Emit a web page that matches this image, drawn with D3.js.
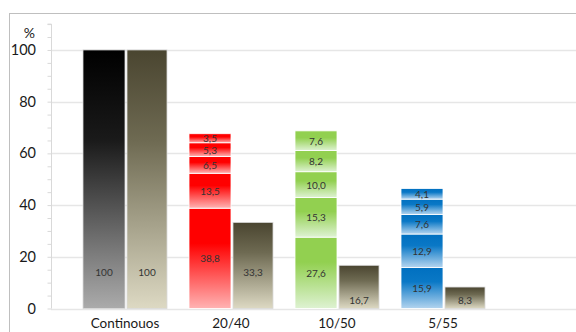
<!DOCTYPE html>
<html>
<head>
<meta charset="utf-8">
<script src="https://cdn.jsdelivr.net/npm/d3@7"></script>
<style>
  html, body { margin: 0; padding: 0; background: #fff; }
  svg { display: block; font-family: Lato, "Open Sans", sans-serif; }
</style>
</head>
<body>
<svg id="chart" width="576" height="332"></svg>
<script>
// Schedules compared against the continuous baseline
const categories = ["Continouos", "20/40", "10/50", "5/55"];
// Stacked components of the left bar (bottom to top); empty for the plain baseline bar
const stackParts = [
  [],
  [38.8, 13.5, 6.5, 5.3, 3.5],
  [27.6, 15.3, 10.0, 8.2, 7.6],
  [15.9, 12.9, 7.6, 5.9, 4.1]
];
// Plain left-bar value for the baseline category
const baseLeft = [100, null, null, null];
// Right-hand comparison bar
const rightValues = [100, 33.3, 16.7, 8.3];
const yTicks = [0, 20, 40, 60, 80, 100];

const palettes = [
  { top: "#000000", mid: "#1a1a1a", bottom: "#ababab" },
  { top: "#ff0000", mid: "#ff0000", bottom: "#ffb3b3" },
  { top: "#92d050", mid: "#92d050", bottom: "#def2d2" },
  { top: "#0070c0", mid: "#0a78c6", bottom: "#b3d4ef" }
];
const tan = { top: "#4a4530", mid: "#6e6a52", bottom: "#ddd9c3" };

const svg = d3.select("#chart");
const y = d3.scaleLinear().domain([0, 110]).range([308.5, 24.1]);
const x = d3.scaleBand().domain(categories).range([72, 496]).padding(0);

// Outer frame
svg.append("line").attr("x1", 9.5).attr("x2", 9.5).attr("y1", 13).attr("y2", 332)
  .attr("stroke", "#bfbfbf").attr("stroke-width", 1);
svg.append("line").attr("x1", 9).attr("x2", 576).attr("y1", 13.5).attr("y2", 13.5)
  .attr("stroke", "#bfbfbf").attr("stroke-width", 1);

// Horizontal gridlines
svg.append("g").selectAll("line").data(yTicks).join("line")
  .attr("x1", 51).attr("x2", 576)
  .attr("y1", d => Math.round(y(d)) + 0.5).attr("y2", d => Math.round(y(d)) + 0.5)
  .attr("stroke", "#e6e6e6").attr("stroke-width", 1.5);

// Y axis with minor ticks every 5
const yAxis = d3.axisLeft(y).tickValues(d3.range(0, 111, 5)).tickSize(4).tickFormat("");
const gy = svg.append("g").attr("transform", "translate(51.5,0)").call(yAxis);
gy.select(".domain").attr("stroke", "#d9d9d9").attr("d", `M-4,${y(110)}H0V${y(0)}`);
gy.selectAll(".tick line").attr("stroke", "#d9d9d9");
svg.append("g").selectAll("text").data(yTicks).join("text")
  .attr("x", 36).attr("y", d => y(d) + 5)
  .attr("text-anchor", "end").attr("font-size", 14.5).attr("fill", "#1a1a1a")
  .text(d => d);
svg.append("text").attr("x", 35).attr("y", 38).attr("text-anchor", "end")
  .attr("font-size", 14).attr("fill", "#1a1a1a").text("%");

// Gradient definitions
const defs = svg.append("defs");
function gradient(id, p) {
  const g = defs.append("linearGradient").attr("id", id)
    .attr("x1", 0).attr("y1", 0).attr("x2", 0).attr("y2", 1);
  g.append("stop").attr("offset", "0%").attr("stop-color", p.top);
  g.append("stop").attr("offset", "35%").attr("stop-color", p.mid);
  g.append("stop").attr("offset", "100%").attr("stop-color", p.bottom);
}
palettes.forEach((p, i) => gradient("g" + i, p));
gradient("tan", tan);

const leftW = 42, rightW = 40, gap = 2;
const bars = svg.append("g");
const labels = svg.append("g").attr("font-size", 10).attr("fill", "#333").attr("text-anchor", "middle");

categories.forEach((c, i) => {
  const cx = x(c) + x.bandwidth() / 2;
  const lx = cx - leftW;
  // Left bar: plain or stacked
  const parts = stackParts[i].length ? stackParts[i] : [baseLeft[i]];
  let acc = 0;
  parts.forEach(v => {
    const y0 = y(acc), y1 = y(acc + v);
    bars.append("rect").attr("x", lx).attr("y", y1).attr("width", leftW).attr("height", y0 - y1)
      .attr("fill", `url(#g${i})`)
      .attr("stroke", stackParts[i].length ? "#ffffff" : "#d9d9d9").attr("stroke-width", 0.8);
    acc += v;
  });
  // Left labels
  if (stackParts[i].length) {
    let a = 0;
    stackParts[i].forEach(v => {
      labels.append("text").attr("x", lx + leftW / 2).attr("y", (y(a) + y(a + v)) / 2 + 4)
        .text(d3.format(".1f")(v).replace(".", ","));
      a += v;
    });
  } else {
    labels.append("text").attr("x", lx + leftW / 2).attr("y", y(14) + 4).text(baseLeft[i]);
  }
  // Right bar
  const rv = rightValues[i];
  const rx = cx + gap;
  bars.append("rect").attr("x", rx).attr("y", y(rv)).attr("width", rightW).attr("height", y(0) - y(rv))
    .attr("fill", "url(#tan)").attr("stroke", "#d9d9d9").attr("stroke-width", 0.8);
  const h = y(0) - y(rv);
  const ly = h > 60 ? y(14) + 4 : y(0) - 5;
  labels.append("text").attr("x", rx + rightW / 2).attr("y", ly)
    .text(Number.isInteger(rv) ? rv : d3.format(".1f")(rv).replace(".", ","));
});

// Category labels
svg.append("g").selectAll("text").data(categories).join("text")
  .attr("x", d => x(d) + x.bandwidth() / 2).attr("y", 328)
  .attr("text-anchor", "middle").attr("font-size", 13.5).attr("fill", "#1a1a1a")
  .text(d => d);
</script>
</body>
</html>
